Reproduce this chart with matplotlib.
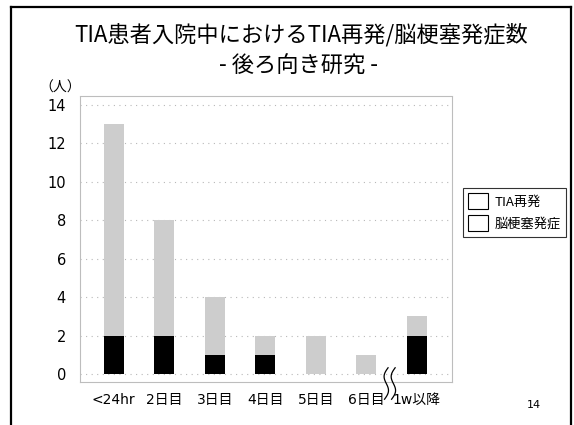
import numpy as np
import matplotlib
matplotlib.use("Agg")
import matplotlib.pyplot as plt
from matplotlib.lines import Line2D
from matplotlib.patches import Patch

plt.rcParams["font.family"] = ["DejaVu Sans", "Noto Sans CJK JP"]

CATEGORIES = ["<24hr", "2日目", "3日目", "4日目", "5日目", "6日目", "1w以降"]
TIA_RECUR = [2, 2, 1, 1, 0, 0, 2]        # black
INFARCTION = [11, 6, 3, 1, 2, 1, 1]      # grey, stacked on top
Y_TICKS = [0, 2, 4, 6, 8, 10, 12, 14]
LEGEND_LABELS = ["TIA再発", "脳梗塞発症"]

TITLE_1 = "TIA患者入院中におけるTIA再発/脳梗塞発症数"
TITLE_2 = "- 後ろ向き研究 -"
Y_UNIT = "（人）"
PAGE_NO = "14"

BLACK = "#000000"
GREY = "#cdcdcd"

fig = plt.figure(figsize=(5.74, 4.25), dpi=100)
ax = fig.add_axes([0.139, 0.101, 0.648, 0.673])

x = np.arange(len(CATEGORIES))
ax.bar(x, TIA_RECUR, width=0.39, color=BLACK, zorder=3)
ax.bar(x, INFARCTION, width=0.39, bottom=TIA_RECUR, color=GREY, zorder=3)

ax.set_xlim(-0.67, 6.69)
ax.set_ylim(-0.42, 14.47)
ax.set_yticks(Y_TICKS)
ax.set_yticklabels([str(v) for v in Y_TICKS], fontsize=10.5)
ax.set_xticks(x)
ax.set_xticklabels(CATEGORIES, fontsize=10)
ax.tick_params(length=0, pad=8)
ax.tick_params(axis="y", pad=10)

ax.yaxis.grid(True, linestyle=(0, (1, 4)), color="#b8b8b8", linewidth=0.8)
ax.set_axisbelow(True)
for sp in ax.spines.values():
    sp.set_linestyle((0, (1, 1)))
    sp.set_color("#bdbdbd")
    sp.set_linewidth(0.8)

# axis break squiggles between 6日目 and 1w以降
t = np.linspace(0, 1, 40)
trans = ax.get_xaxis_transform()
for dx in (5.36, 5.5):
    xs = dx + 0.06 * np.sin(2 * np.pi * t) + 0.07 * t
    ys = -0.06 + 0.11 * t
    ax.plot(xs, ys, color="black", linewidth=0.9, transform=trans,
            clip_on=False, zorder=5)

# titles and texts
fig.text(0.525, 0.918, TITLE_1, ha="center", va="center", fontsize=16,
         family=["Noto Sans CJK JP"])
fig.text(0.52, 0.845, TITLE_2, ha="center", va="center", fontsize=16,
         family=["Noto Sans CJK JP"])
fig.text(0.105, 0.793, Y_UNIT, ha="center", va="center", fontsize=10,
         family=["Noto Sans CJK JP"])
fig.text(0.93, 0.047, PAGE_NO, ha="center", va="center", fontsize=8)

# legend with empty boxes
handles = [Patch(facecolor="white", edgecolor="black", linewidth=0.8)
           for _ in LEGEND_LABELS]
leg = fig.legend(handles, LEGEND_LABELS, loc="upper left",
                 bbox_to_anchor=(0.807, 0.558), frameon=True, fancybox=False,
                 prop={"family": "Noto Sans CJK JP", "size": 9.5},
                 handlelength=1.5, handleheight=1.5, handletextpad=0.45,
                 labelspacing=0.45, borderpad=0.4, borderaxespad=0)
leg.get_frame().set_edgecolor("black")
leg.get_frame().set_linewidth(0.8)

# slide frame
fig.add_artist(Line2D([0.019, 0.019], [0.0, 0.984], color="black", linewidth=1.6))
fig.add_artist(Line2D([0.995, 0.995], [0.0, 0.984], color="black", linewidth=1.6))
fig.add_artist(Line2D([0.019, 0.995], [0.984, 0.984], color="black", linewidth=1.6))

fig.savefig("out.png", dpi=100)
